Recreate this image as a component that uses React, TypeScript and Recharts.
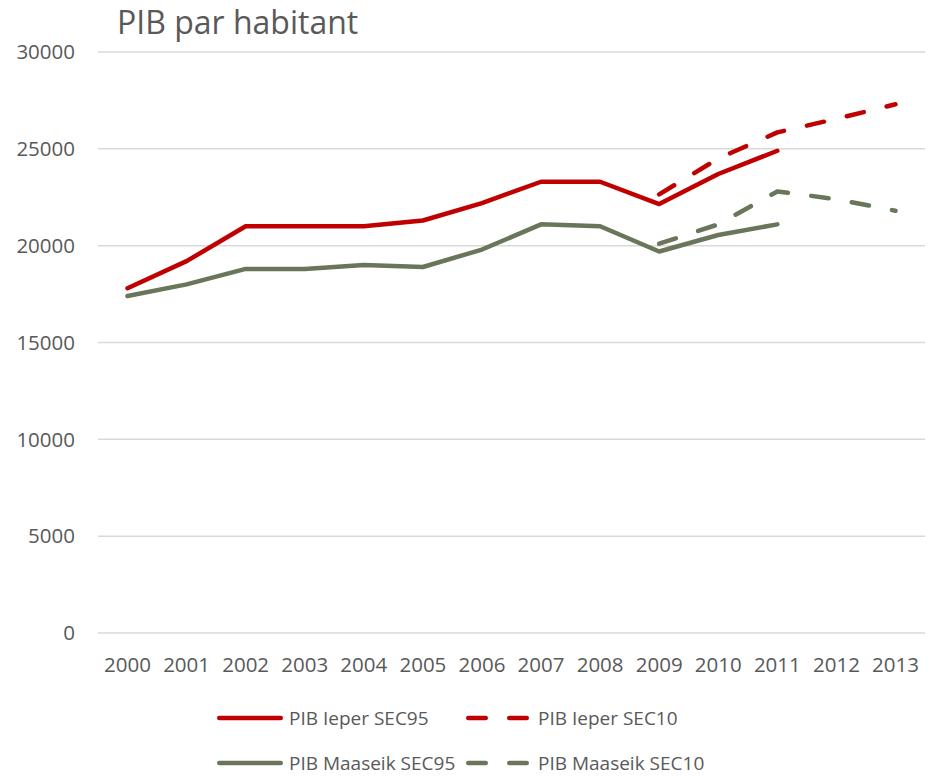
import { LineChart, Line, XAxis, YAxis, CartesianGrid } from 'recharts';

const years = ['2000', '2001', '2002', '2003', '2004', '2005', '2006', '2007', '2008', '2009', '2010', '2011', '2012', '2013'];
const ieperSec95 = [17800, 19200, 21000, 21000, 21000, 21300, 22200, 23300, 23300, 22150, 23700, 24900, null, null];
const ieperSec10 = [null, null, null, null, null, null, null, null, null, 22650, 24500, 25850, 26550, 27300];
const maaseikSec95 = [17400, 18000, 18800, 18800, 19000, 18900, 19800, 21100, 21000, 19700, 20550, 21100, null, null];
const maaseikSec10 = [null, null, null, null, null, null, null, null, null, 20100, 21100, 22800, 22400, 21800];
const yTicks = [0, 5000, 10000, 15000, 20000, 25000, 30000];

const RED = '#c00000';
const GREEN = '#68765a';
const TEXT = '#595959';
const FONT = '"Open Sans", sans-serif';
const DASH = '17.5 23.5';

const series = [
  { key: 'ieper95', name: 'PIB Ieper SEC95', color: RED, dashed: false },
  { key: 'ieper10', name: 'PIB Ieper SEC10', color: RED, dashed: true },
  { key: 'maaseik95', name: 'PIB Maaseik SEC95', color: GREEN, dashed: false },
  { key: 'maaseik10', name: 'PIB Maaseik SEC10', color: GREEN, dashed: true },
];

const data = years.map((year, i) => ({
  year,
  ieper95: ieperSec95[i],
  ieper10: ieperSec10[i],
  maaseik95: maaseikSec95[i],
  maaseik10: maaseikSec10[i],
}));

function LegendItem({ name, color, dashed }: { name: string; color: string; dashed: boolean }) {
  return (
    <div style={{ display: 'flex', alignItems: 'center', width: 249 }}>
      <svg width={66} height={10} style={{ flex: 'none' }}>
        <line
          x1={2.25}
          x2={63.75}
          y1={5}
          y2={5}
          stroke={color}
          strokeWidth={4.5}
          strokeLinecap="round"
          strokeDasharray={dashed ? DASH : undefined}
        />
      </svg>
      <span style={{ marginLeft: 6, whiteSpace: 'nowrap' }}>{name}</span>
    </div>
  );
}

export default function App() {
  return (
    <div style={{ position: 'absolute', left: 0, top: 0, width: 928, height: 776, background: '#fff', fontFamily: FONT }}>
      <div style={{ position: 'absolute', left: 117, top: 0, fontSize: 32, color: TEXT }}>PIB par habitant</div>
      <LineChart width={928} height={690} data={data} margin={{ top: 52, right: 3, bottom: 0, left: 0 }}>
        <CartesianGrid vertical={false} stroke="#d9d9d9" strokeWidth={1.5} />
        <XAxis
          dataKey="year"
          axisLine={false}
          tickLine={false}
          tickSize={0}
          tickMargin={24}
          height={57}
          padding={{ left: 29.5, right: 29.5 }}
          interval={0}
          tick={{ fill: TEXT, fontSize: 20.5, fontFamily: FONT }}
        />
        <YAxis
          domain={[0, 30000]}
          ticks={yTicks}
          axisLine={false}
          tickLine={false}
          tickSize={0}
          tickMargin={23}
          width={98}
          tick={{ fill: TEXT, fontSize: 20.5, fontFamily: FONT }}
        />
        {series.map((s) => (
          <Line
            key={s.key}
            type="linear"
            dataKey={s.key}
            name={s.name}
            stroke={s.color}
            strokeWidth={4.5}
            strokeLinecap="round"
            strokeLinejoin="round"
            strokeDasharray={s.dashed ? DASH : undefined}
            dot={false}
            activeDot={false}
            isAnimationActive={false}
          />
        ))}
      </LineChart>
      <div style={{ position: 'absolute', left: 217, top: 704, fontSize: 19, color: TEXT }}>
        <div style={{ display: 'flex', height: 28 }}>
          <LegendItem {...series[0]} />
          <LegendItem {...series[1]} />
        </div>
        <div style={{ display: 'flex', height: 28, marginTop: 17 }}>
          <LegendItem {...series[2]} />
          <LegendItem {...series[3]} />
        </div>
      </div>
    </div>
  );
}
